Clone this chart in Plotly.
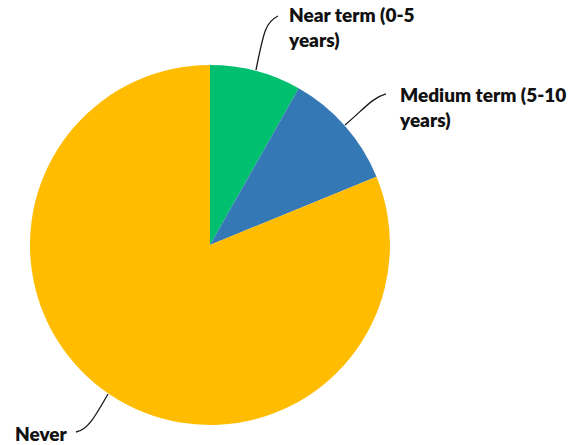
import plotly.graph_objects as go

# Share of respondents by expected time horizon
labels = ["Near term (0-5 years)", "Medium term (5-10 years)", "Never"]
values = [8.2, 10.6, 81.2]
colors = ["#00BF6F", "#3479B6", "#FFBC00"]

# Label text drawn outside the pie, broken over lines
label_text = ["Near term (0-5<br>years)", "Medium term (5-10<br>years)", "Never"]

W, H = 571, 445


def px(x, y):
    """Convert pixel position (top-left origin) to paper coordinates."""
    return x / W, 1 - y / H


fig = go.Figure(
    go.Pie(
        labels=labels,
        values=values,
        marker=dict(colors=colors, line=dict(width=0)),
        sort=False,
        direction="clockwise",
        rotation=0,
        textinfo="none",
        hoverinfo="label+percent",
        domain=dict(x=[30 / W, 390 / W], y=[20 / H, 380 / H]),
    )
)

# Label positions (text left edge, text vertical centre) and leader curves
label_pos = [(286, 27), (397, 107), (13, 433)]
leaders = [
    [(256, 70), (264, 30), (266, 22), (278, 16)],
    [(345, 125), (365, 108), (372, 98), (386, 94)],
    [(108, 394), (96, 415), (88, 430), (76, 432)],
]

annotations = []
for (x, y), t in zip(label_pos, label_text):
    ax, ay = px(x, y)
    annotations.append(
        dict(
            x=ax, y=ay, xref="paper", yref="paper",
            text=t, showarrow=False, xanchor="left", yanchor="middle",
            align="left",
            font=dict(family="Lato", size=19, color="#111111", weight=800),
        )
    )

shapes = []
for pts in leaders:
    p = [px(*q) for q in pts]
    path = "M {:.4f},{:.4f} C {:.4f},{:.4f} {:.4f},{:.4f} {:.4f},{:.4f}".format(
        p[0][0], p[0][1], p[1][0], p[1][1], p[2][0], p[2][1], p[3][0], p[3][1]
    )
    shapes.append(
        dict(type="path", path=path, xref="paper", yref="paper",
             line=dict(color="#1a1a1a", width=1.3))
    )

fig.update_layout(
    width=W, height=H,
    margin=dict(l=0, r=0, t=0, b=0),
    paper_bgcolor="white",
    plot_bgcolor="white",
    showlegend=False,
    annotations=annotations,
    shapes=shapes,
)

fig.write_html("out.html")
